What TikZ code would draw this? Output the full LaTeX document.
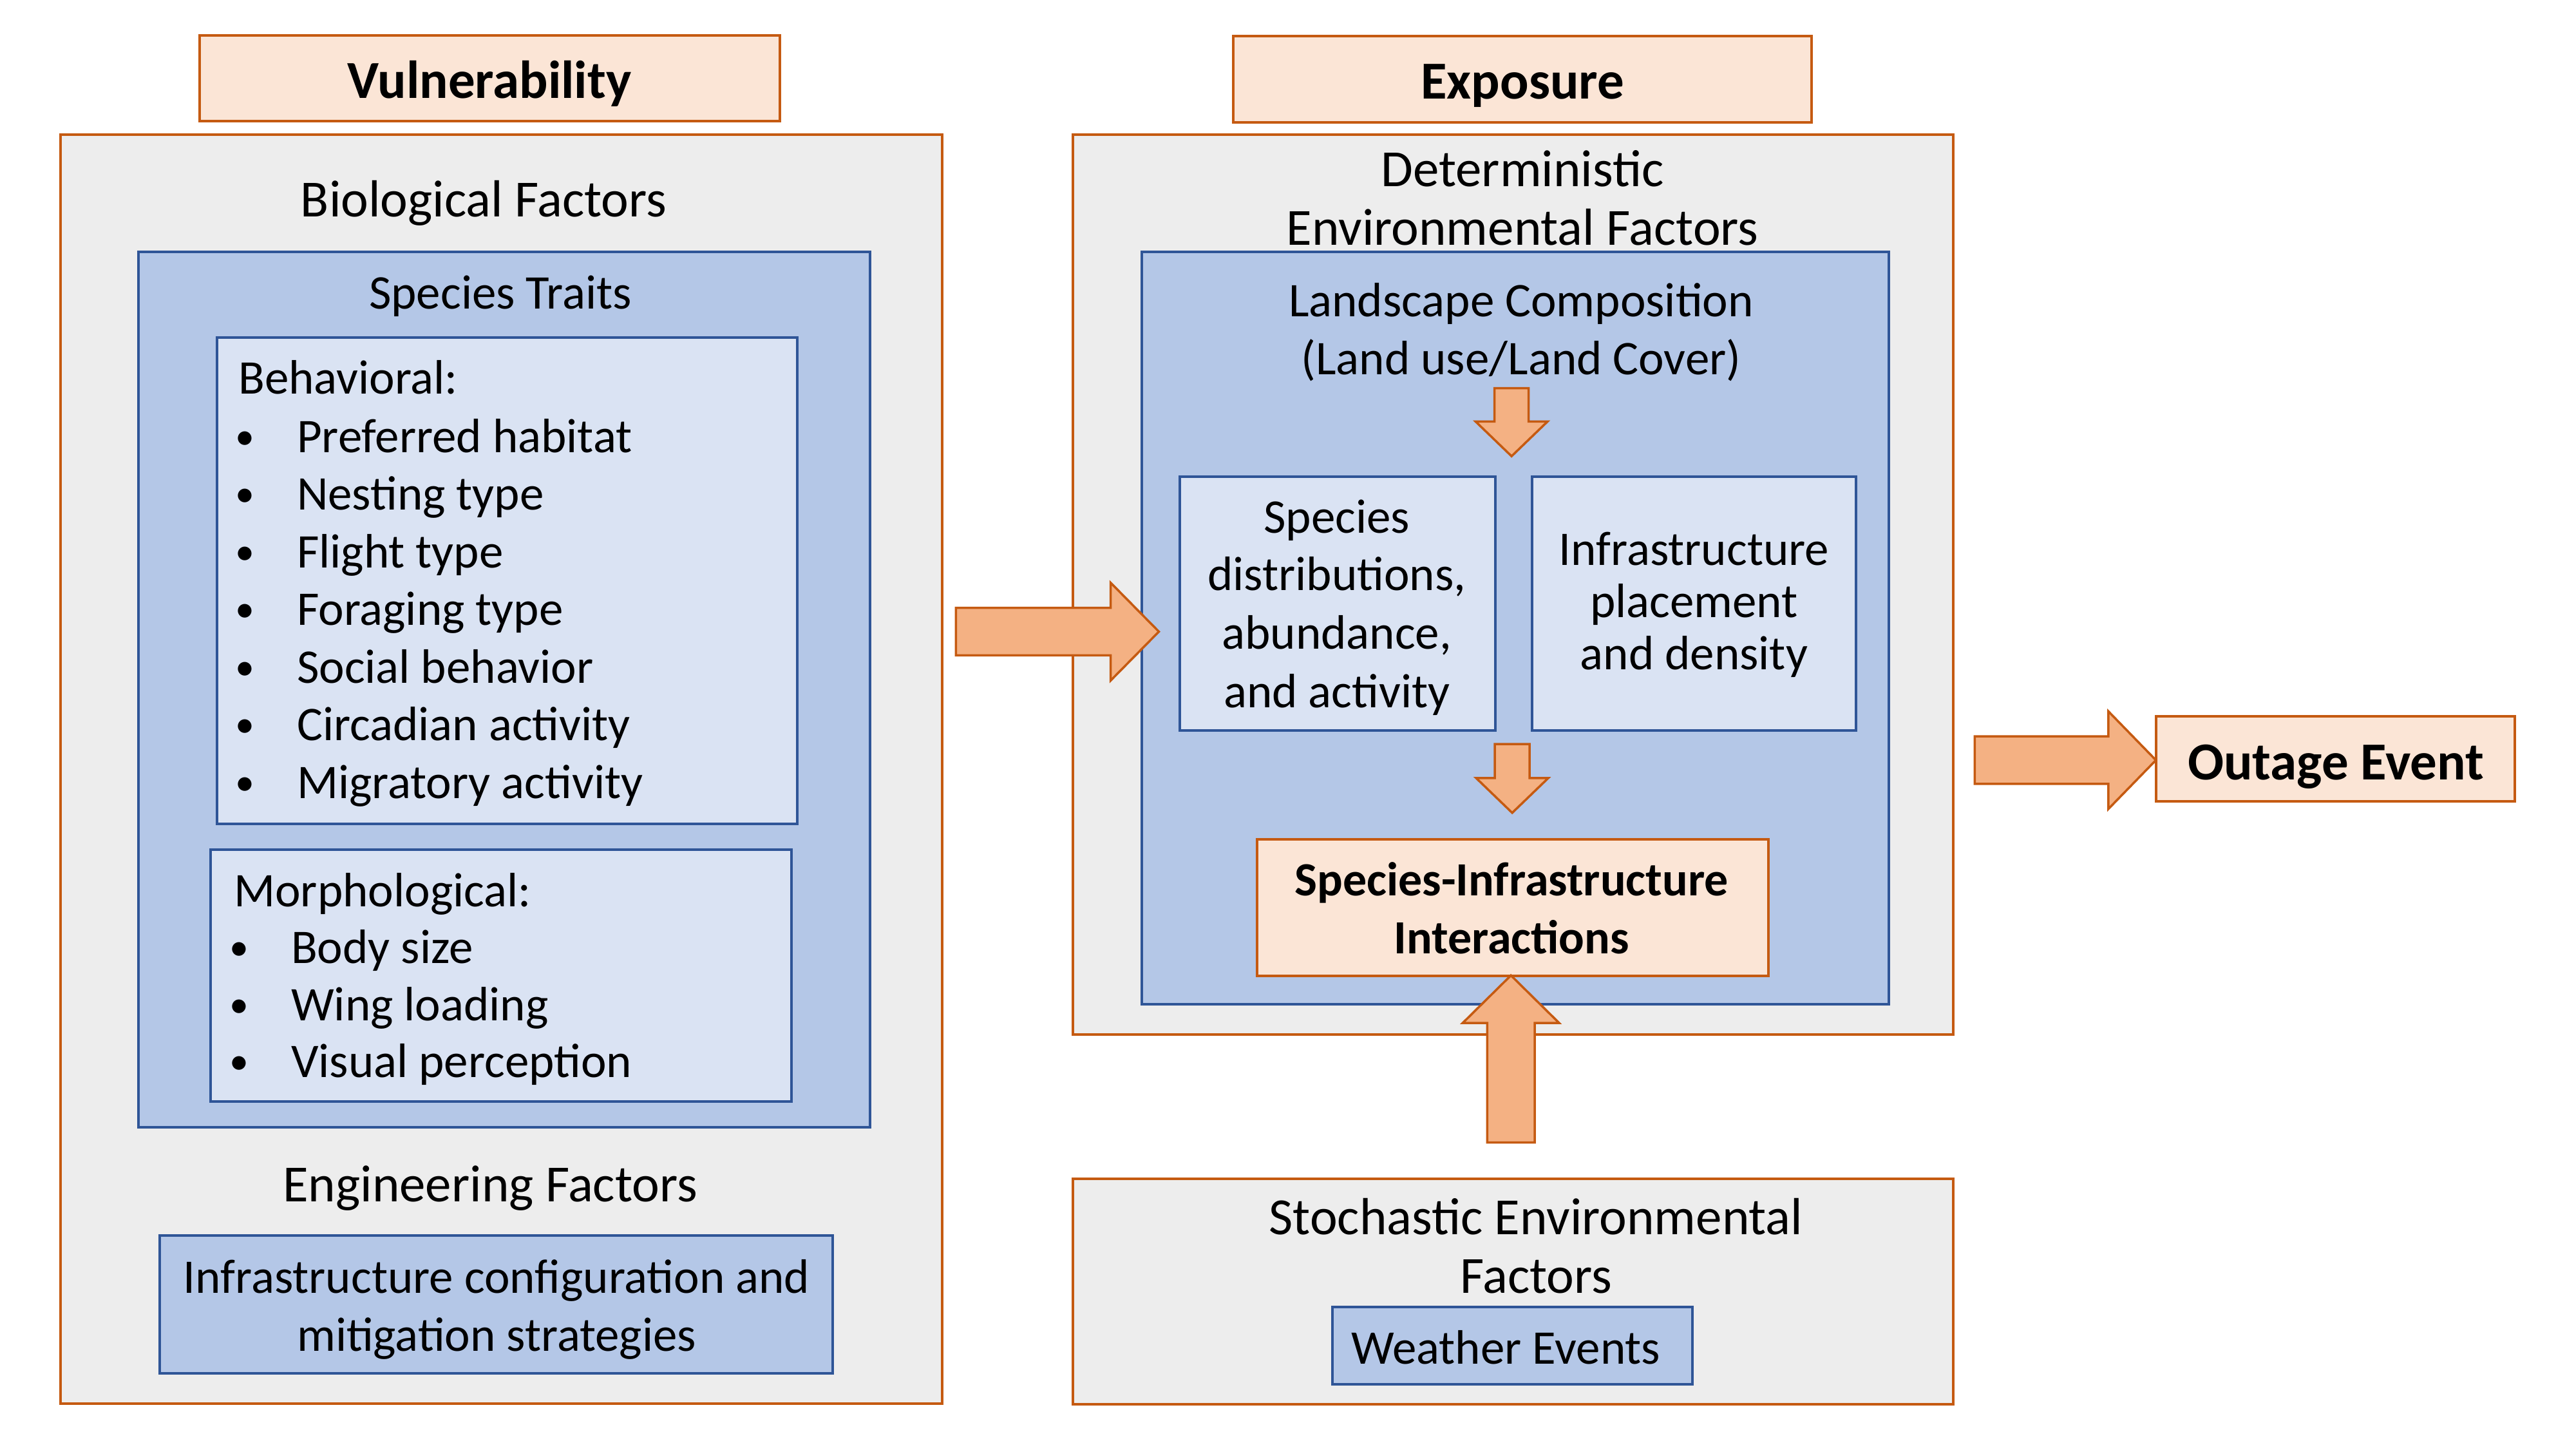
\documentclass[tikz,border=0pt]{standalone}
\usepackage{fontspec}
\setmainfont{Carlito}
\definecolor{orbord}{HTML}{C55A11}
\definecolor{peach}{HTML}{FBE5D6}
\definecolor{grayfill}{HTML}{EDEDED}
\definecolor{bluefill}{HTML}{B4C7E7}
\definecolor{lightblue}{HTML}{DAE3F3}
\definecolor{blubord}{HTML}{2F5597}
\definecolor{arrfill}{HTML}{F4B183}
\newcommand\sfac{0.9975}
\newcommand\mkbox[6]{%
  \pgfmathsetmacro\bw{(#5-#3)*\sfac}\pgfmathsetmacro\bh{(#6-#4)*\sfac}%
  \node[#2, minimum width=\bw pt, minimum height=\bh pt] (#1) at ({(#3+#5)/2},{(#4+#6)/2}) {};}
\begin{document}
\begin{tikzpicture}[x=0.9975pt,y=-0.9975pt,
  basebox/.style={rectangle, inner sep=0pt, outer sep=0pt, line width=4pt},
  peachbox/.style={basebox, draw=orbord, fill=peach},
  graybox/.style={basebox, draw=orbord, fill=grayfill},
  bluebox/.style={basebox, draw=blubord, fill=bluefill},
  lightbox/.style={basebox, draw=blubord, fill=lightblue},
  blockarrow/.style={draw=orbord, fill=arrfill, line width=3.5pt, line join=miter},
  txt/.style={inner sep=0pt, anchor=base, font=\fontsize{75}{90}\selectfont},
  htxt/.style={txt, font=\fontsize{81}{97}\selectfont},
  ltxt/.style={txt, anchor=base west},
  bul/.style={inner sep=0pt, anchor=base, font=\fontsize{60}{70}\selectfont},
  ttl/.style={inner sep=0pt, anchor=base, font=\fontsize{83}{100}\selectfont\bfseries},
  btxt/.style={inner sep=0pt, anchor=base, font=\fontsize{74}{90}\selectfont\bfseries}]
\fill[white] (0,0) rectangle (4010,2256);
\path[use as bounding box] (0,0) rectangle (4010,2256);

% boxes
\mkbox{vul}{peachbox}{311}{55}{1214}{188}
\mkbox{exp}{peachbox}{1920}{56}{2820}{190}
\mkbox{leftbig}{graybox}{94}{210}{1467}{2184}
\mkbox{traits}{bluebox}{216}{392}{1354}{1754}
\mkbox{behav}{lightbox}{338}{525}{1241}{1282}
\mkbox{morph}{lightbox}{328}{1322}{1232}{1714}
\mkbox{infracfg}{bluebox}{249}{1923}{1296}{2137}
\mkbox{rightbig}{graybox}{1670}{210}{3041}{1610}
\mkbox{landscape}{bluebox}{1777}{392}{2940}{1563}
\mkbox{species}{lightbox}{1837}{742}{2328}{1137}
\mkbox{infrab}{lightbox}{2385}{742}{2889}{1137}
\mkbox{sii}{peachbox}{1957}{1306}{2753}{1519}
\mkbox{stoch}{graybox}{1670}{1835}{3041}{2185}
\mkbox{weather}{bluebox}{2074}{2034}{2635}{2154}
\mkbox{outage}{peachbox}{3356}{1115}{3915}{1247}

% block arrows
\draw[blockarrow] (1488,946) -- (1729,946) -- (1729,907) -- (1804,983) -- (1729,1059) -- (1729,1020) -- (1488,1020) -- cycle;
\draw[blockarrow] (3074,1146) -- (3282,1146) -- (3282,1107) -- (3356,1183) -- (3282,1259) -- (3282,1220) -- (3074,1220) -- cycle;
\draw[blockarrow] (2326.5,604) -- (2379.5,604) -- (2379.5,656) -- (2409,656) -- (2353,710) -- (2297,656) -- (2326.5,656) -- cycle;
\draw[blockarrow] (2327,1158) -- (2381,1158) -- (2381,1211) -- (2410,1211) -- (2354,1265) -- (2298,1211) -- (2327,1211) -- cycle;
\draw[blockarrow] (2315,1778) -- (2389,1778) -- (2389,1592) -- (2427,1592) -- (2352,1518) -- (2277,1592) -- (2315,1592) -- cycle;

% texts
\begin{scope}[yshift=-4pt]
\node[ttl] (tvul) at (762,149) {Vulnerability};
\node[ttl] (texp) at (2370,150) {Exposure};
\node[htxt] (tbio) at (753,333) {Biological Factors};
\node[txt] (ttraits) at (779,477) {Species Traits};
\node[ltxt] (tbeh) at (371,609) {Behavioral:};
\foreach \t [count=\i from 0] in {Preferred habitat, Nesting type, Flight type, Foraging type, Social behavior, Circadian activity, Migratory activity} {
  \node[bul] (bb\i) at (381,{700+89.7*\i-5}) {•};
  \node[ltxt] (bi\i) at (462,{700+89.7*\i}) {\t};
}
\node[ltxt] (tmor) at (364,1407) {Morphological:};
\foreach \t [count=\i from 0] in {Body size, Wing loading, Visual perception} {
  \node[bul] (mb\i) at (372,{1495+89*\i-5}) {•};
  \node[ltxt] (mi\i) at (453,{1495+89*\i}) {\t};
}
\node[htxt] (teng) at (763,1866) {Engineering Factors};
\node[txt] (tcfg1) at (773,2008) {Infrastructure configuration and};
\node[txt] (tcfg2) at (773,2099) {mitigation strategies};
\node[htxt] (tdet1) at (2370,286) {Deterministic};
\node[htxt] (tdet2) at (2370,377) {Environmental Factors};
\node[txt] (tland1) at (2368,489) {Landscape Composition};
\node[txt] (tland2) at (2368,579) {(Land use/Land Cover)};
\node[txt] (tsp1) at (2081,826) {Species};
\node[txt] (tsp2) at (2081,915) {distributions,};
\node[txt] (tsp3) at (2081,1006) {abundance,};
\node[txt] (tsp4) at (2081,1097) {and activity};
\node[txt] (tin1) at (2637,876) {Infrastructure};
\node[txt] (tin2) at (2637,957) {placement};
\node[txt] (tin3) at (2637,1038) {and density};
\node[btxt] (tsii1) at (2353,1390) {Species-Infrastructure};
\node[btxt] (tsii2) at (2353,1480) {Interactions};
\node[ttl] (tout) at (3636,1209) {Outage Event};
\node[htxt] (tst1) at (2391,1917) {Stochastic Environmental};
\node[htxt] (tst2) at (2391,2008) {Factors};
\node[txt] (twea) at (2344,2119) {Weather Events};
\end{scope}
\end{tikzpicture}
\end{document}
